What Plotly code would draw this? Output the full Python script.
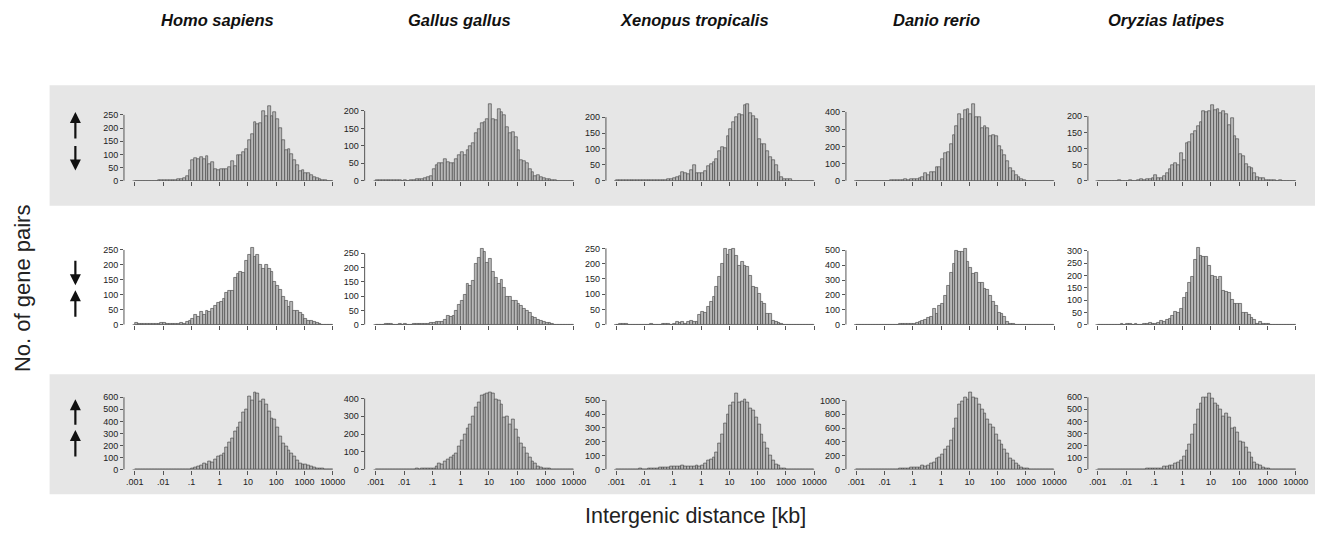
import plotly.graph_objects as go

W, H = 1326, 536

species = ["Homo sapiens", "Gallus gallus", "Xenopus tropicalis", "Danio rerio", "Oryzias latipes"]
tick_labels = [".001", ".01", ".1", "1", "10", "100", "1000", "10000"]
tick_exponents = [-3, -2, -1, 0, 1, 2, 3, 4]

# 70 log-spaced bins (10 per decade) from 0.001 to 10000 kb
bin_centers = [-3 + 0.05 + 0.1 * i for i in range(70)]

# ---- row 1: divergent pairs (up / down) ----
homo_div = [0,0,0,0,0,0,0,0,1,1, 1,1,2,3,4,6,8,12,18,42, 77,86,83,91,81,95,64,71,45,42,
            43,44,43,53,73,56,96,98,109,119, 155,178,222,215,220,265,246,285,244,260,
            235,200,153,117,121,101,77,61,38,39, 28,30,20,14,10,5,3,1,0,0]
gallus_div = [1,1,2,1,1,1,1,2,1,0, 1,0,1,2,4,5,4,7,10,13, 33,46,50,50,63,55,51,50,63,74,
              82,73,89,100,108,136,147,164,169,176, 219,178,174,205,197,189,153,136,140,125,
              89,58,56,50,35,25,14,16,12,8, 6,4,2,1,0,0,0,0,0,0]
xenopus_div = [1,2,3,2,2,1,1,2,1,1, 1,2,1,2,1,1,2,3,4,6, 8,12,14,27,23,22,35,50,23,25,
               24,32,46,53,59,67,92,106,103,142, 163,185,200,210,207,237,242,213,205,195,
               132,116,116,95,74,66,50,27,12,6, 4,5,0,0,0,0,0,0,0,0]
danio_div = [0,0,0,0,0,0,0,0,0,1, 1,1,2,3,3,4,6,10,5,8, 8,10,13,19,44,34,51,51,82,82,
             124,162,168,216,263,318,387,360,410,419, 390,444,371,371,305,320,305,261,267,257,
             204,177,147,114,72,57,32,19,10,4, 1,0,0,0,0,0,0,0,0,0]
oryzias_div = [0,0,0,0,0,0,0,1,0,0, 0,1,0,0,2,4,3,5,6,7, 17,8,10,15,23,36,50,54,48,86,
               64,117,120,144,155,171,181,216,213,216, 234,218,223,210,216,208,173,193,137,129,
               84,76,51,41,38,23,12,10,9,2, 1,3,1,0,1,0,0,0,0,0]

# ---- row 2: convergent pairs (down / up) ----
homo_conv = [5,4,3,2,3,3,2,3,2,6, 5,3,2,2,3,3,5,4,10,13, 19,33,28,43,33,47,42,54,63,74,
             78,88,108,113,113,158,169,177,174,215, 235,257,226,235,202,188,202,188,178,144,
             129,117,94,80,61,76,47,46,41,32, 21,13,13,10,6,2,1,0,0,0]
gallus_conv = [1,0,1,2,3,2,1,1,2,1, 2,1,1,2,3,4,3,3,4,6, 7,9,10,10,18,32,29,31,48,68,
               85,106,143,136,154,212,233,265,255,218, 231,184,165,143,158,131,99,97,85,82,
               74,65,56,48,41,28,24,18,14,9, 6,5,2,1,0,0,0,0,0,0]
xenopus_conv = [0,3,3,2,1,0,0,1,0,0, 0,1,2,1,0,1,2,3,2,1, 4,8,5,8,4,9,12,10,9,33,
                42,40,57,75,92,125,158,201,248,230, 247,250,225,192,205,192,189,160,124,122,
                100,76,67,37,37,13,11,7,2,1, 0,1,0,0,0,0,0,0,0,0]
danio_conv = [0,0,0,0,0,0,0,0,0,0, 0,0,0,0,2,3,3,4,5,6, 9,11,20,27,35,46,53,104,71,124,
              142,192,261,352,412,496,489,491,511,425, 385,345,347,285,281,241,237,197,157,126,
              80,71,53,20,9,4,0,0,0,0, 0,0,0,0,0,0,0,0,0,0]
oryzias_conv = [1,1,0,1,1,1,0,1,2,1, 2,3,1,2,1,1,2,4,6,5, 5,9,16,12,21,23,36,51,50,64,
                110,129,169,193,264,311,280,277,278,240, 201,193,182,194,139,133,130,102,86,86,
                83,50,50,39,28,19,5,12,5,3, 2,1,1,0,0,0,0,0,0,0]

# ---- row 3: tandem pairs (up / up) ----
homo_tan = [3,2,2,2,3,2,2,3,2,3, 3,2,3,2,3,3,4,3,3,5, 11,16,25,36,52,47,66,60,82,110,
            115,137,184,225,258,315,348,395,471,499, 608,573,641,636,562,581,540,485,422,416,
            348,279,216,192,156,134,107,74,55,47, 41,33,27,19,14,11,8,5,3,0]
gallus_tan = [2,2,3,2,3,2,3,2,3,3, 3,2,3,3,4,3,4,5,6,8, 9,19,37,30,45,56,71,82,89,130,
              164,201,234,257,298,350,378,419,424,430, 432,430,396,391,365,294,298,257,283,229,
              179,145,126,89,71,48,33,20,15,9, 6,4,3,2,1,1,0,0,0,0]
xenopus_tan = [3,2,4,3,5,4,3,5,6,4, 5,6,8,10,12,14,14,16,18,20, 22,24,22,28,24,23,26,22,30,25,
               33,48,67,71,90,126,186,257,333,400, 460,483,550,483,495,507,488,443,429,376,
               324,257,198,150,102,67,38,29,12,7, 5,3,2,1,1,0,0,0,0,0]
danio_tan = [2,3,2,3,2,3,2,3,4,3, 5,6,8,8,10,12,14,15,18,25, 38,33,29,57,43,62,86,110,158,182,
             215,287,335,421,598,746,940,990,1043,1019, 1115,1043,1033,947,876,813,732,660,612,517,
             421,364,287,230,158,134,86,67,38,24, 14,8,5,3,2,1,0,0,0,0]
oryzias_tan = [2,2,3,2,2,2,3,2,3,3, 3,3,4,3,5,4,5,6,8,8, 11,11,14,27,27,33,38,55,60,77,
               110,156,211,293,375,499,553,595,600,636, 589,553,534,499,444,463,430,340,353,307,
               230,225,184,142,101,60,47,33,19,11, 8,5,3,2,1,1,0,0,0,0]

rows_data = [
    [homo_div, gallus_div, xenopus_div, danio_div, oryzias_div],
    [homo_conv, gallus_conv, xenopus_conv, danio_conv, oryzias_conv],
    [homo_tan, gallus_tan, xenopus_tan, danio_tan, oryzias_tan],
]
# top y tick and tick step per panel
y_top = [[250, 200, 200, 400, 200],
         [250, 250, 250, 500, 300],
         [600, 400, 500, 1000, 600]]
y_step = [[50, 50, 50, 100, 50],
          [50, 50, 50, 100, 50],
          [100, 100, 100, 200, 100]]

# ---- layout geometry (pixels) ----
yaxis_px = [125, 367.7, 611, 853, 1097]
t001_px = [136, 379, 621.5, 863.5, 1107]
dec_px = 28.5
row_zero_px = [182.5, 327.7, 474]
row_top_px = [100, 240, 388]
top_tick_px = [[116, 112, 118.3, 113, 117.3],
               [252.3, 255.7, 250.7, 252.7, 253.3],
               [401, 402.3, 404, 404.3, 401]]

fig = go.Figure()
layout = dict(width=W, height=H, margin=dict(l=0, r=0, t=0, b=0),
              paper_bgcolor="white", plot_bgcolor="rgba(0,0,0,0)",
              showlegend=False, bargap=0,
              font=dict(family="Arial, Liberation Sans, sans-serif", color="#222"))
shapes = []
annotations = []

def py(p):
    return 1 - p / H

# gray background bands (rows 1 and 3)
for (t, b) in [(86, 207.7), (377.7, 499)]:
    shapes.append(dict(type="rect", xref="paper", yref="paper", x0=50 / W, x1=1,
                       y0=py(b), y1=py(t), fillcolor="#e6e6e6", line=dict(width=0), layer="below"))

axis_col = "#555"
n = 0
for r in range(3):
    for c in range(5):
        n += 1
        xa = "x" if n == 1 else f"x{n}"
        ya = "y" if n == 1 else f"y{n}"
        vals = rows_data[r][c]
        fig.add_trace(go.Bar(x=bin_centers, y=vals, width=0.1, xaxis=xa, yaxis=ya,
                             marker=dict(color="#b8b8b8", line=dict(color="#3c3c3c", width=0.6)),
                             hoverinfo="skip"))
        x0p = yaxis_px[c]
        x1p = t001_px[c] + 7 * dec_px + 2
        xr = [-3 - (t001_px[c] - yaxis_px[c]) / dec_px, 4 + 2 / dec_px]
        y0p = row_zero_px[r]
        ytp = row_top_px[r]
        T = y_top[r][c]
        ymax = T * (y0p - ytp) / (y0p - top_tick_px[r][c])
        key_x = "xaxis" if n == 1 else f"xaxis{n}"
        key_y = "yaxis" if n == 1 else f"yaxis{n}"
        layout[key_x] = dict(domain=[x0p / W, x1p / W], range=xr, anchor=ya,
                             tickmode="array", tickvals=tick_exponents, ticktext=tick_labels,
                             showticklabels=(r == 2), ticks="outside", ticklen=4, tickwidth=1,
                             tickcolor=axis_col, showline=False, showgrid=False, zeroline=False,
                             tickfont=dict(size=9, color="#222"), fixedrange=True)
        layout[key_y] = dict(domain=[py(y0p), py(ytp)], range=[0, ymax], anchor=xa,
                             tickmode="array", tickvals=list(range(0, T + 1, y_step[r][c])),
                             ticks="outside", ticklen=3, tickwidth=1, tickcolor=axis_col,
                             showline=False, showgrid=False, zeroline=False,
                             tickfont=dict(size=9, color="#222"), fixedrange=True)
        # y axis line from 0 to top tick
        shapes.append(dict(type="line", xref=f"{xa} domain", yref=ya, x0=0, x1=0, y0=0, y1=T,
                           line=dict(color=axis_col, width=1)))
        # x axis line
        shapes.append(dict(type="line", xref=xa, yref=ya, x0=-3.08, x1=4, y0=0, y1=0,
                           line=dict(color=axis_col, width=1)))

# column titles
title_cx = [219, 463, 700, 944, 1176]
for name, cx in zip(species, title_cx):
    annotations.append(dict(text=f"<b><i>{name}</i></b>", x=cx / W, y=py(20), xref="paper", yref="paper",
                            showarrow=False, font=dict(size=16.5, color="#111"), xanchor="center", yanchor="middle"))

# axis titles
annotations.append(dict(text="No. of gene pairs", x=22 / W, y=py(291), xref="paper", yref="paper",
                        showarrow=False, textangle=-90, font=dict(size=22, color="#222"),
                        xanchor="center", yanchor="middle"))
annotations.append(dict(text="Intergenic distance [kb]", x=701 / W, y=py(521), xref="paper", yref="paper",
                        showarrow=False, font=dict(size=21.5, color="#222"), xanchor="center", yanchor="middle"))

# orientation arrows: (tip_y, tail_y)
arrows = [(113, 141), (172, 146), (288, 262), (293, 321), (403, 430), (434, 462)]
for tip, tail in arrows:
    annotations.append(dict(text="", x=76 / W, y=py(tip), xref="paper", yref="paper",
                            ax=0, ay=tail - tip, axref="pixel", ayref="pixel",
                            showarrow=True, arrowhead=2, arrowsize=1, arrowwidth=2.2,
                            arrowcolor="#111", standoff=0, startstandoff=0))

layout["shapes"] = shapes
layout["annotations"] = annotations
fig.update_layout(**layout)
fig.write_html("out.html")
